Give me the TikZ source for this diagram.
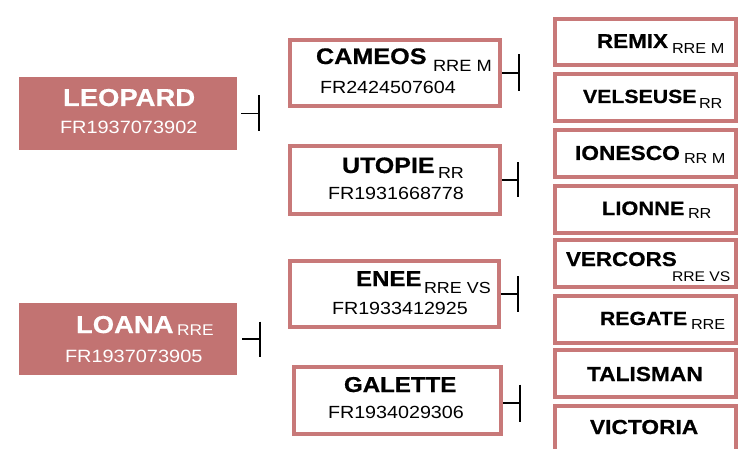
\documentclass[tikz,border=0pt]{standalone}
\usepackage{fontspec}
\setmainfont{Liberation Sans}[FakeStretch=1.12, BoldFeatures={FakeBold=0.6}]
\definecolor{rosefill}{RGB}{194,115,114}
\definecolor{roseline}{RGB}{200,121,121}
\newcommand\ttlf[1]{\bfseries\fontsize{#1}{#1}\selectfont}
\newcommand\subf[1]{\mdseries\fontsize{#1}{#1}\selectfont}
\tikzset{
  leftbox/.style={rectangle, fill=rosefill, draw=none, inner sep=0, outer sep=0},
  midbox/.style={rectangle, draw=roseline, line width=4pt, fill=white, inner sep=0, outer sep=0},
  txt/.style={inner sep=0, outer sep=0, anchor=base west},
  tick/.style={line width=1.5pt, black},
}
\begin{document}
\begin{tikzpicture}[x=1pt,y=-1pt]
\useasboundingbox (0,0) rectangle (747,449);
\clip (0,0) rectangle (747,449);
\fill[white] (0,0) rectangle (747,449);

% left boxes
\node[leftbox, minimum width=218pt, minimum height=73pt] (leo) at (128,113.5) {};
\node[leftbox, minimum width=218pt, minimum height=72pt] (loa) at (128,339) {};

% middle boxes
\node[midbox, minimum width=210pt, minimum height=66pt] (cam) at (395,73) {};
\node[midbox, minimum width=210pt, minimum height=68pt] (uto) at (395,180) {};
\node[midbox, minimum width=209pt, minimum height=66pt] (ene) at (394.5,294) {};
\node[midbox, minimum width=207pt, minimum height=67pt] (gal) at (397.5,400.5) {};

% right boxes
\node[midbox, minimum width=181pt, minimum height=46pt] (rem) at (645.5,42) {};
\node[midbox, minimum width=181pt, minimum height=47pt] (vel) at (645.5,98) {};
\node[midbox, minimum width=181pt, minimum height=47pt] (ion) at (645.5,153.5) {};
\node[midbox, minimum width=181pt, minimum height=47pt] (lio) at (645.5,209.5) {};
\node[midbox, minimum width=181pt, minimum height=47pt] (ver) at (645.5,263.5) {};
\node[midbox, minimum width=181pt, minimum height=47pt] (reg) at (645.5,319.5) {};
\node[midbox, minimum width=181pt, minimum height=47pt] (tal) at (645.5,373.5) {};
\node[midbox, minimum width=181pt, minimum height=50pt] (vic) at (645.5,431) {};

% connectors
\coordinate (leoB) at (259,113.5);
\draw[tick, shorten <=4pt] (leo.east) -- (leoB);
\draw[tick] ([yshift=18pt]leoB) -- ([yshift=-18pt]leoB);
\coordinate (loaB) at (260,339);
\draw[tick, shorten <=5pt] (loa.east) -- (loaB);
\draw[tick] ([yshift=17.5pt]loaB) -- ([yshift=-17.5pt]loaB);
\coordinate (camB) at (519,73);
\draw[tick, shorten <=2pt] (cam.east) -- (camB);
\draw[tick] ([yshift=18.5pt]camB) -- ([yshift=-18.5pt]camB);
\coordinate (utoB) at (518,180);
\draw[tick, shorten <=2pt] (uto.east) -- (utoB);
\draw[tick] ([yshift=17.5pt]utoB) -- ([yshift=-17.5pt]utoB);
\coordinate (eneB) at (518,294);
\draw[tick, shorten <=2pt] (ene.east) -- (eneB);
\draw[tick] ([yshift=18pt]eneB) -- ([yshift=-18pt]eneB);
\coordinate (galB) at (520,403);
\draw[tick, shorten <=2pt] ([yshift=-2.5pt]gal.east) -- (galB);
\draw[tick] ([yshift=18.5pt]galB) -- ([yshift=-18.5pt]galB);

% texts left
\node[txt, white, font=\ttlf{24.5}] (leoT) at (63,106) {LEOPARD};
\node[txt, white, font=\subf{17.8}] (leoN) at (60,134) {FR1937073902};
\node[txt, white, font=\ttlf{24.5}] (loaT) at (76,333) {LOANA};
\node[txt, white, font=\subf{15.5}] (loaS) at (177,335) {RRE};
\node[txt, white, font=\subf{17.8}] (loaN) at (65,362) {FR1937073905};

% texts middle
\node[txt, font=\ttlf{22.5}] (camT) at (316,64) {CAMEOS};
\node[txt, font=\subf{16.3}] (camS) at (433,72) {RRE M};
\node[txt, font=\subf{17.6}] (camN) at (320,94) {FR2424507604};
\node[txt, font=\ttlf{22.3}] (utoT) at (342,173) {UTOPIE};
\node[txt, font=\subf{16}] (utoS) at (438,179) {RR};
\node[txt, font=\subf{17.6}] (utoN) at (328,200) {FR1931668778};
\node[txt, font=\ttlf{21.5}] (eneT) at (356,286) {ENEE};
\node[txt, font=\subf{16}] (eneS) at (424,293) {RRE VS};
\node[txt, font=\subf{17.6}] (eneN) at (332,314) {FR1933412925};
\node[txt, font=\ttlf{21.5}] (galT) at (344,392) {GALETTE};
\node[txt, font=\subf{17.6}] (galN) at (328,418) {FR1934029306};

% texts right
\node[txt, font=\ttlf{20}] (remT) at (597,48) {REMIX};
\node[txt, font=\subf{14.5}] (remS) at (672,54) {RRE M};
\node[txt, font=\ttlf{19}] (velT) at (583,103) {VELSEUSE};
\node[txt, font=\subf{14.5}] (velS) at (699,109) {RR};
\node[txt, font=\ttlf{20.3}] (ionT) at (575,160) {IONESCO};
\node[txt, font=\subf{14.5}] (ionS) at (684,164) {RR M};
\node[txt, font=\ttlf{19.5}] (lioT) at (602,215) {LIONNE};
\node[txt, font=\subf{14.5}] (lioS) at (688,219) {RR};
\node[txt, font=\ttlf{20}] (verT) at (566,266) {VERCORS};
\node[txt, font=\subf{14}] (verS) at (672,281) {RRE VS};
\node[txt, font=\ttlf{19}] (regT) at (600,325) {REGATE};
\node[txt, font=\subf{14.5}] (regS) at (691,329) {RRE};
\node[txt, font=\ttlf{20.3}] (talT) at (587,381) {TALISMAN};
\node[txt, font=\ttlf{20.3}] (vicT) at (590,434) {VICTORIA};
\end{tikzpicture}
\end{document}
